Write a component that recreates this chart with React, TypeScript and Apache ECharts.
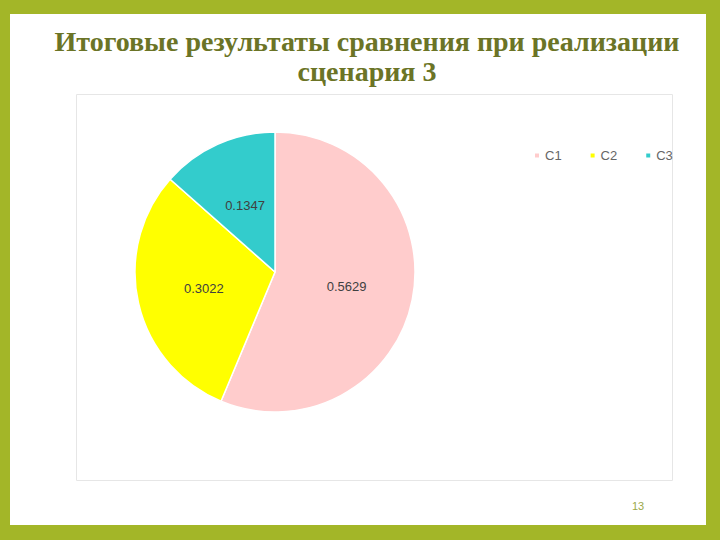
import React, { useEffect, useRef } from "react";
import * as echarts from "echarts";

const categories = ["C1", "C2", "C3"];
const values = [0.5629, 0.3022, 0.1347];
const colors = ["#ffcccc", "#ffff00", "#33cccc"];
const titleLines = ["Итоговые результаты сравнения при реализации", "сценария 3"];
const pageNumber = "13";

export default function App() {
  const ref = useRef<HTMLDivElement>(null);
  useEffect(() => {
    document.body.style.margin = "0";
    const chart = echarts.init(ref.current!, null, { renderer: "svg" });
    chart.setOption({
      animation: false,
      backgroundColor: "#a3b628",
      title: {
        text: titleLines.join("\n"),
        left: 362,
        textAlign: "center",
        top: 21,
        textStyle: {
          fontFamily: "'Liberation Serif', 'Times New Roman', serif",
          fontWeight: "bold",
          fontSize: 28,
          lineHeight: 30,
          color: "#6b7426",
        },
      },
      legend: {
        data: categories,
        left: 528,
        top: 144,
        icon: "rect",
        itemWidth: 6,
        itemHeight: 6,
        itemGap: 27,
        textStyle: { fontFamily: "'Liberation Sans', Arial, sans-serif", fontSize: 13, color: "#666666" },
      },
      graphic: [
        { type: "rect", z: -10, shape: { x: 10, y: 14, width: 696, height: 511 }, style: { fill: "#ffffff" } },
        { type: "rect", z: -9, shape: { x: 76.5, y: 94.5, width: 596, height: 386 }, style: { fill: "#ffffff", stroke: "#e6e6e6", lineWidth: 1 } },
        { type: "rect", z: 100, shape: { x: 673, y: 100, width: 33, height: 100 }, style: { fill: "#ffffff" } },
        {
          type: "text",
          x: 638,
          y: 506,
          style: { text: pageNumber, fill: "#9aa84a", fontSize: 11, fontFamily: "'Liberation Sans', Arial, sans-serif", align: "center", verticalAlign: "middle" },
        },
      ],
      series: [
        {
          type: "pie",
          center: [275, 272],
          radius: 140,
          startAngle: 90,
          clockwise: true,
          itemStyle: { borderColor: "#ffffff", borderWidth: 1.5 },
          label: {
            show: true,
            position: "inside",
            formatter: (p: any) => p.value.toFixed(4),
            color: "#404040",
            fontSize: 13,
            fontFamily: "'Liberation Sans', Arial, sans-serif",
          },
          labelLine: { show: false },
          data: categories.map((c, i) => ({ name: c, value: values[i], itemStyle: { color: colors[i] } })),
        },
      ],
    });
    return () => chart.dispose();
  }, []);
  return <div ref={ref} style={{ width: 720, height: 540, position: "absolute", left: 0, top: 0 }} />;
}
